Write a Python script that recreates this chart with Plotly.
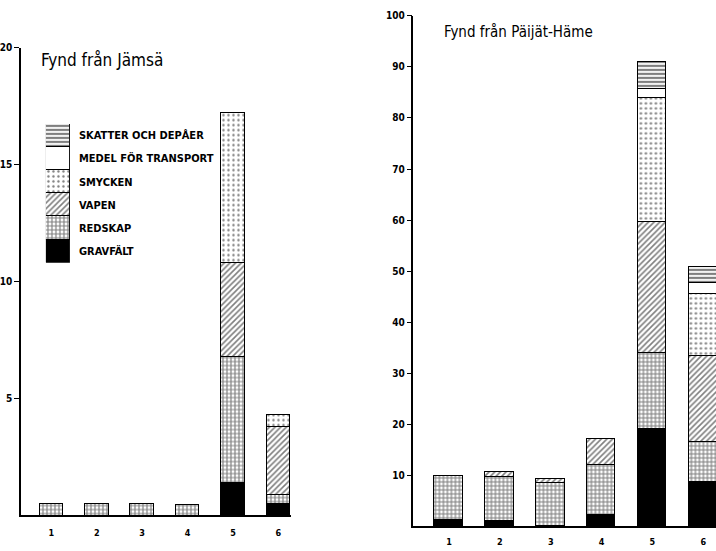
import plotly.graph_objects as go

# ---------------- data ----------------
categories = [1, 2, 3, 4, 5, 6]
tick_labels = ["1", "2", "3", "4", "5", "6"]

series_names = ["GRAVFÄLT", "REDSKAP", "VAPEN", "SMYCKEN",
                "MEDEL FÖR TRANSPORT", "SKATTER OCH DEPÅER"]

# Fynd från Jämsä
gravfalt_j = [None, None, None, None, 1.4, 0.5]
redskap_j = [0.5, 0.5, 0.5, 0.45, 5.4, 0.4]
vapen_j = [None, None, None, None, 4.0, 2.9]
smycken_j = [None, None, None, None, 6.4, 0.5]
medel_j = [None, None, None, None, None, None]
skatter_j = [None, None, None, None, None, None]

# Fynd från Päijät-Häme
gravfalt_p = [1.2, 1.0, None, 2.3, 19.0, 8.6]
redskap_p = [8.6, 8.6, 8.4, 9.8, 15.0, 8.0]
vapen_p = [None, 1.0, 0.8, 5.1, 25.7, 16.7]
smycken_p = [None, None, None, None, 24.3, 12.3]
medel_p = [None, None, None, None, 1.7, 2.0]
skatter_p = [None, None, None, None, 5.3, 3.3]

legend_unit = [1]

title_j = "Fynd från Jämsä"
title_p = "Fynd från Päijät-Häme"

# ---------------- styles ----------------
styles = [
    dict(color="black", pattern=None),
    dict(color="white", pattern=dict(shape="+", fgcolor="black", size=4, solidity=0.5)),
    dict(color="white", pattern=dict(shape="/", fgcolor="black", size=4, solidity=0.4)),
    dict(color="white", pattern=dict(shape=".", fgcolor="black", size=5, solidity=0.18)),
    dict(color="white", pattern=None),
    dict(color="white", pattern=dict(shape="-", fgcolor="black", size=4, solidity=0.55)),
]

FONT = "DejaVu Sans Condensed, Liberation Sans Narrow, sans-serif"

fig = go.Figure()

def add_bars(values_list, xaxis, yaxis, width, x=categories):
    for name, vals, st in zip(series_names, values_list, styles):
        marker = dict(color=st["color"], line=dict(color="black", width=1))
        if st["pattern"] is not None:
            marker["pattern"] = st["pattern"]
        fig.add_trace(go.Bar(x=x, y=vals, name=name, marker=marker, width=width,
                             xaxis=xaxis, yaxis=yaxis, showlegend=False))

add_bars([gravfalt_j, redskap_j, vapen_j, smycken_j, medel_j, skatter_j], "x", "y", 0.52)
add_bars([gravfalt_p, redskap_p, vapen_p, smycken_p, medel_p, skatter_p], "x2", "y2", 0.56)
add_bars([legend_unit] * 6, "x3", "y3", 1.0, x=[0])

W, H = 716, 551
def px(x0, x1):
    return [x0 / W, x1 / W]
def py(ytop, ybot):
    return [(H - ybot) / H, (H - ytop) / H]

tickfont = dict(family="DejaVu Sans Condensed, sans-serif", size=10, color="black", weight="bold")
xtickfont = dict(family="DejaVu Sans Condensed, sans-serif", size=9, color="black", weight="bold")

fig.update_layout(
    width=W, height=H,
    margin=dict(l=0, r=0, t=0, b=0),
    paper_bgcolor="white", plot_bgcolor="white",
    barmode="stack", bargap=0,
    font=dict(family=FONT, color="black"),
    xaxis=dict(domain=px(20, 290), range=[0.33, 6.27], tickvals=categories, ticktext=tick_labels,
               showline=True, linecolor="black", linewidth=1.5, showgrid=False, zeroline=False,
               ticks="", tickfont=xtickfont, ticklabelstandoff=8),
    yaxis=dict(domain=py(43, 515), range=[0, 20], tickvals=[5, 10, 15, 20],
               showline=True, linecolor="black", linewidth=1.5, showgrid=False, zeroline=False,
               ticks="outside", ticklen=5, tickcolor="black", tickfont=tickfont),
    xaxis2=dict(domain=px(413, 716), range=[0.3, 6.25], tickvals=categories, ticktext=tick_labels,
                showline=True, linecolor="black", linewidth=1.5, showgrid=False, zeroline=False,
                ticks="", tickfont=xtickfont, ticklabelstandoff=6, anchor="y2",
                ticklabeloverflow="allow"),
    yaxis2=dict(domain=py(11, 526), range=[0, 100], tickvals=[10, 20, 30, 40, 50, 60, 70, 80, 90, 100],
                showline=True, linecolor="black", linewidth=1.5, showgrid=False, zeroline=False,
                ticks="outside", ticklen=5, tickcolor="black", tickfont=tickfont, anchor="x2"),
    xaxis3=dict(domain=px(45, 69), range=[-0.5, 0.5], visible=False, anchor="y3"),
    yaxis3=dict(domain=py(120, 260), range=[0, 6], anchor="x3", side="right",
                showline=False, showgrid=False, zeroline=False, ticks="",
                tickvals=[0.5, 1.5, 2.5, 3.5, 4.5, 5.5], ticktext=series_names,
                tickfont=dict(family=FONT, size=11, color="black", weight="bold"),
                ticklabelstandoff=8),
    annotations=[
        dict(text=title_j, xref="paper", yref="paper", x=38 / W, y=(H - 56) / H,
             xanchor="left", yanchor="middle", showarrow=False,
             font=dict(family=FONT, size=17, color="black")),
        dict(text=title_p, xref="paper", yref="paper", x=442 / W, y=(H - 27) / H,
             xanchor="left", yanchor="middle", showarrow=False,
             font=dict(family=FONT, size=15, color="black")),
    ],
)

fig.write_html("out.html", config={"displayModeBar": False},
               post_script="document.body.style.margin='0';document.body.style.overflow='hidden';")
